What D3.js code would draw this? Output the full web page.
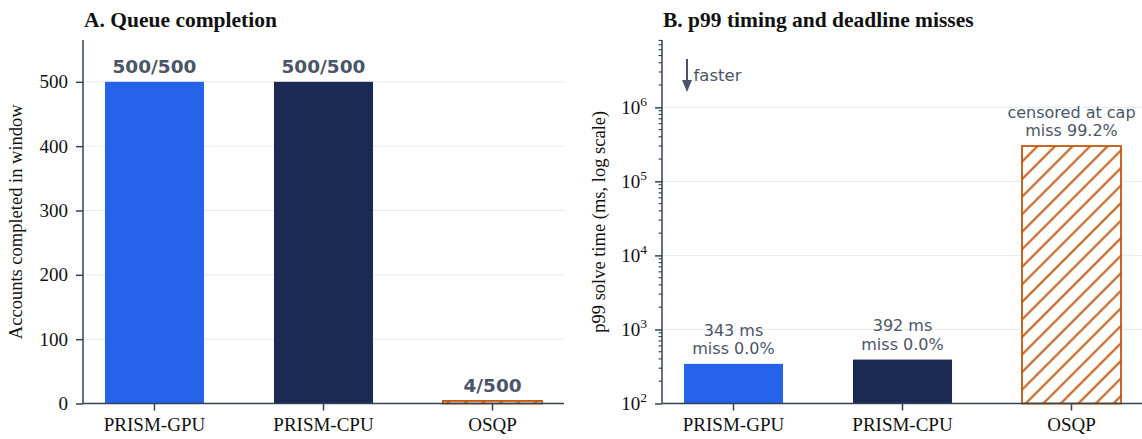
<!DOCTYPE html>
<html>
<head>
<meta charset="utf-8">
<script src="https://cdn.jsdelivr.net/npm/d3@7"></script>
<style>
  body { margin: 0; background: #fff; }
  svg { display: block; }
  .tick text { font-family: "Liberation Serif", "Times New Roman", serif; font-size: 19px; fill: #111; }
  .axis path, .axis line { stroke: #334155; }
  .title { font-family: "Liberation Serif", serif; font-weight: bold; font-size: 21.5px; fill: #111; }
  .ylabel { font-family: "Liberation Serif", serif; font-size: 18.5px; fill: #111; }
  .note { font-family: "DejaVu Sans", sans-serif; fill: #4b5567; }
</style>
</head>
<body>
<div id="chart"></div>
<script>
const solvers = ['PRISM-GPU', 'PRISM-CPU', 'OSQP']
const completed = [500, 500, 4]
const totalAccounts = 500
const p99ms = [343, 392, 300000]
const missPct = [0.0, 0.0, 99.2]
const censored = [false, false, true]
const countTicks = [0, 100, 200, 300, 400, 500]
const logTicks = [100, 1000, 10000, 100000, 1000000]

const colors = ['#2563eb', '#1b2a52', '#c2570c']

const W = 1142, H = 439
const panels = {
  a: { left: 83, right: 564, top: 40, bottom: 403.5 },
  b: { left: 662, right: 1143, top: 40, bottom: 403.5 }
}

const svg = d3.select('#chart').append('svg')
    .attr('width', W)
    .attr('height', H)

// diagonal hatch for the censored bar
const hs = 12.4
const defs = svg.append('defs')
const hatch = defs.append('pattern')
    .attr('id', 'hatch')
    .attr('patternUnits', 'userSpaceOnUse')
    .attr('width', hs)
    .attr('height', hs)
    .attr('patternTransform', 'rotate(45)')
hatch.append('rect')
    .attr('width', hs).attr('height', hs).attr('fill', '#fff')
hatch.append('line')
    .attr('x1', hs / 2).attr('y1', 0).attr('x2', hs / 2).attr('y2', hs)
    .attr('stroke', colors[2]).attr('stroke-width', 2)

const fillFor = i => censored[i] ? 'url(#hatch)' : colors[i]

function xBand(p) {
  return d3.scaleBand()
      .domain(solvers)
      .range([p.left, p.right])
      .paddingInner(0.414)
      .paddingOuter(0.13)
}

// ---- panel A ----
const pa = panels.a
const xa = xBand(pa)
const ya = d3.scaleLinear().domain([0, 565]).range([pa.bottom, pa.top])

const gA = svg.append('g')

gA.append('g')
  .selectAll('line')
  .data(countTicks.filter(d => d > 0))
  .join('line')
    .attr('x1', pa.left).attr('x2', pa.right)
    .attr('y1', d => ya(d)).attr('y2', d => ya(d))
    .attr('stroke', '#e6e9f0')
    .attr('stroke-width', 1)

gA.selectAll('rect.bar')
  .data(solvers)
  .join('rect')
    .attr('class', 'bar')
    .attr('x', d => xa(d))
    .attr('width', xa.bandwidth())
    .attr('y', (d, i) => ya(completed[i]))
    .attr('height', (d, i) => ya(0) - ya(completed[i]))
    .attr('fill', (d, i) => fillFor(i))
    .attr('stroke', (d, i) => censored[i] ? colors[i] : 'none')
    .attr('stroke-width', 1.8)

gA.selectAll('text.val')
  .data(solvers)
  .join('text')
    .attr('class', 'note')
    .attr('x', d => xa(d) + xa.bandwidth() / 2)
    .attr('y', (d, i) => ya(completed[i]) - 9)
    .attr('text-anchor', 'middle')
    .attr('font-size', 18.5)
    .attr('font-weight', 'bold')
    .text((d, i) => `${completed[i]}/${totalAccounts}`)

const axA = gA.append('g')
    .attr('class', 'axis')
    .attr('transform', `translate(${pa.left},0)`)
    .call(d3.axisLeft(ya).tickValues(countTicks).tickSize(7).tickPadding(8))
axA.select('.domain').attr('stroke-width', 1.5).attr('d', `M0,${pa.top}V${pa.bottom}`)
axA.selectAll('.tick line').attr('stroke-width', 1.5)

const axAx = gA.append('g')
    .attr('class', 'axis')
    .attr('transform', `translate(0,${pa.bottom})`)
    .call(d3.axisBottom(xa).tickSize(7).tickPadding(7))
axAx.select('.domain').attr('stroke-width', 1.5).attr('d', `M${pa.left},0H${pa.right}`)
axAx.selectAll('.tick line').attr('stroke-width', 1.5)

gA.append('text')
    .attr('class', 'title')
    .attr('x', pa.left + 1)
    .attr('y', 27)
    .text('A. Queue completion')

gA.append('text')
    .attr('class', 'ylabel')
    .attr('transform', `translate(22,${(pa.top + pa.bottom) / 2}) rotate(-90)`)
    .attr('text-anchor', 'middle')
    .text('Accounts completed in window')

// ---- panel B ----
const pb = panels.b
const xb = xBand(pb)
const yb = d3.scaleLog().domain([100, Math.pow(10, 6.909)]).range([pb.bottom, pb.top])

const gB = svg.append('g')

gB.append('g')
  .selectAll('line')
  .data(logTicks.filter(d => d > 100))
  .join('line')
    .attr('x1', pb.left).attr('x2', pb.right)
    .attr('y1', d => yb(d)).attr('y2', d => yb(d))
    .attr('stroke', '#e6e9f0')
    .attr('stroke-width', 1)

gB.selectAll('rect.bar')
  .data(solvers)
  .join('rect')
    .attr('class', 'bar')
    .attr('x', d => xb(d))
    .attr('width', xb.bandwidth())
    .attr('y', (d, i) => yb(p99ms[i]))
    .attr('height', (d, i) => yb(100) - yb(p99ms[i]))
    .attr('fill', (d, i) => fillFor(i))
    .attr('stroke', (d, i) => censored[i] ? colors[i] : 'none')
    .attr('stroke-width', 1.8)

const notes = gB.selectAll('text.val')
  .data(solvers)
  .join('text')
    .attr('class', 'note')
    .attr('x', d => xb(d) + xb.bandwidth() / 2)
    .attr('y', (d, i) => yb(p99ms[i]) - 10)
    .attr('text-anchor', 'middle')
    .attr('font-size', 16)
notes.append('tspan')
    .attr('x', d => xb(d) + xb.bandwidth() / 2)
    .attr('dy', -18.3)
    .text((d, i) => censored[i] ? 'censored at cap' : `${p99ms[i]} ms`)
notes.append('tspan')
    .attr('x', d => xb(d) + xb.bandwidth() / 2)
    .attr('dy', 18.3)
    .text((d, i) => `miss ${missPct[i].toFixed(1)}%`)

// minor ticks
const minor = []
for (let e = 2; e <= 6; e++) {
  for (let k = 2; k <= 9; k++) {
    const v = k * Math.pow(10, e)
    if (yb(v) >= pb.top) minor.push(v)
  }
}
gB.append('g')
  .selectAll('line')
  .data(minor)
  .join('line')
    .attr('x1', pb.left - 3.5).attr('x2', pb.left)
    .attr('y1', d => yb(d)).attr('y2', d => yb(d))
    .attr('stroke', '#334155')
    .attr('stroke-width', 1.1)

const axB = gB.append('g')
    .attr('class', 'axis')
    .attr('transform', `translate(${pb.left},0)`)
    .call(d3.axisLeft(yb).tickValues(logTicks).tickSize(7).tickPadding(8).tickFormat(() => ''))
axB.select('.domain').attr('stroke-width', 1.5).attr('d', `M0,${pb.top}V${pb.bottom}`)
axB.selectAll('.tick line').attr('stroke-width', 1.5)
axB.selectAll('.tick text').each(function (d) {
  const t = d3.select(this)
  t.append('tspan').text('10')
  t.append('tspan')
      .attr('dy', -8)
      .attr('font-size', 13.5)
      .text(Math.round(Math.log10(d)))
})

const axBx = gB.append('g')
    .attr('class', 'axis')
    .attr('transform', `translate(0,${pb.bottom})`)
    .call(d3.axisBottom(xb).tickSize(7).tickPadding(7))
axBx.select('.domain').attr('stroke-width', 1.5).attr('d', `M${pb.left},0H${pb.right}`)
axBx.selectAll('.tick line').attr('stroke-width', 1.5)

gB.append('text')
    .attr('class', 'title')
    .attr('x', pb.left + 1)
    .attr('y', 27)
    .text('B. p99 timing and deadline misses')

gB.append('text')
    .attr('class', 'ylabel')
    .attr('transform', `translate(605,${(pb.top + pb.bottom) / 2}) rotate(-90)`)
    .attr('text-anchor', 'middle')
    .text('p99 solve time (ms, log scale)')

// "faster" arrow
gB.append('line')
    .attr('x1', 687).attr('x2', 687)
    .attr('y1', 59).attr('y2', 81)
    .attr('stroke', '#4b5567')
    .attr('stroke-width', 2)
gB.append('path')
    .attr('d', 'M682,80L692,80L687,92Z')
    .attr('fill', '#4b5567')
gB.append('text')
    .attr('class', 'note')
    .attr('x', 693.5)
    .attr('y', 80.5)
    .attr('font-size', 16.5)
    .text('faster')
</script>
</body>
</html>
